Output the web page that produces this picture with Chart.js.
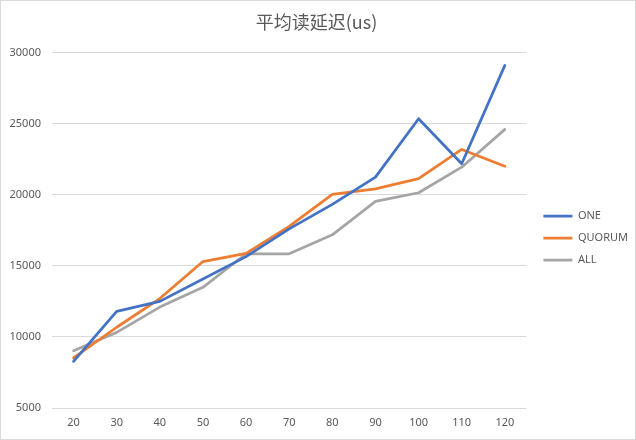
<!DOCTYPE html>
<html>
<head>
<meta charset="utf-8">
<script src="https://cdn.jsdelivr.net/npm/chart.js@4"></script>
<style>
html,body{margin:0;padding:0;background:#fff;}
#wrap{width:634px;height:438px;border:1px solid #d9d9d9;position:relative;}
</style>
</head>
<body>
<div id="wrap"><canvas id="c" width="634" height="438"></canvas></div>
<script>
const categories = ['20','30','40','50','60','70','80','90','100','110','120'];
const seriesNames = ['ONE','QUORUM','ALL'];
const oneValues = [8280, 11800, 12500, 14080, 15650, 17600, 19320, 21240, 25350, 22180, 29100];
const quorumValues = [8520, 10680, 12700, 15300, 15880, 17780, 20020, 20420, 21130, 23190, 22010];
const allValues = [9030, 10320, 12100, 13490, 15850, 15850, 17180, 19530, 20140, 21940, 24600];
const yTicks = [5000, 10000, 15000, 20000, 25000, 30000];
const colors = ['#4472C4', '#ED7D31', '#A5A5A5'];
const titleText = '平均读延迟(us)';

const seriesValues = [oneValues, quorumValues, allValues];
const datasets = seriesNames.map((n, i) => ({
  label: n,
  data: seriesValues[i],
  borderColor: colors[i],
  backgroundColor: colors[i],
  borderWidth: 2.75,
  pointRadius: 0,
  tension: 0,
  borderCapStyle: 'round',
  borderJoinStyle: 'round'
}));

const legendShift = {
  id: 'legendShift',
  afterLayout(chart) {
    const l = chart.legend;
    if (!l) return;
    l.left += 6; l.right += 6;
    l.top += 16; l.bottom += 16;
  }
};

new Chart(document.getElementById('c'), {
  type: 'line',
  data: { labels: categories, datasets },
  plugins: [legendShift],
  options: {
    responsive: false,
    animation: false,
    devicePixelRatio: 1,
    layout: { padding: { left: 0, right: 3, top: 4, bottom: 0 } },
    plugins: {
      title: {
        display: true,
        text: titleText,
        color: '#595959',
        font: { family: '"Noto Sans CJK SC", "Noto Sans", sans-serif', size: 18, weight: 'normal' },
        padding: { top: 6, bottom: 20 }
      },
      legend: {
        position: 'right',
        labels: {
          usePointStyle: true,
          pointStyle: 'line',
          pointStyleWidth: 29,
          color: '#595959',
          font: { family: '"Noto Sans", sans-serif', size: 11 },
          padding: 11,
          boxHeight: 3
        }
      },
      tooltip: { enabled: false }
    },
    scales: {
      x: {
        offset: true,
        grid: { display: false, drawTicks: false },
        border: { display: false },
        ticks: { color: '#595959', font: { family: '"Noto Sans", sans-serif', size: 11 }, padding: 8 },
        afterFit: (axis) => { axis.height = 31; }
      },
      y: {
        min: yTicks[0],
        max: yTicks[yTicks.length - 1],
        afterBuildTicks: (axis) => { axis.ticks = yTicks.map(v => ({ value: v })); },
        grid: { color: '#d9d9d9', lineWidth: 1, drawTicks: false },
        border: { display: false },
        ticks: { color: '#595959', font: { family: '"Noto Sans", sans-serif', size: 11 }, padding: 11, callback: (v) => String(v) },
        afterFit: (axis) => { axis.width = 51; }
      }
    }
  }
});
</script>
</body>
</html>
